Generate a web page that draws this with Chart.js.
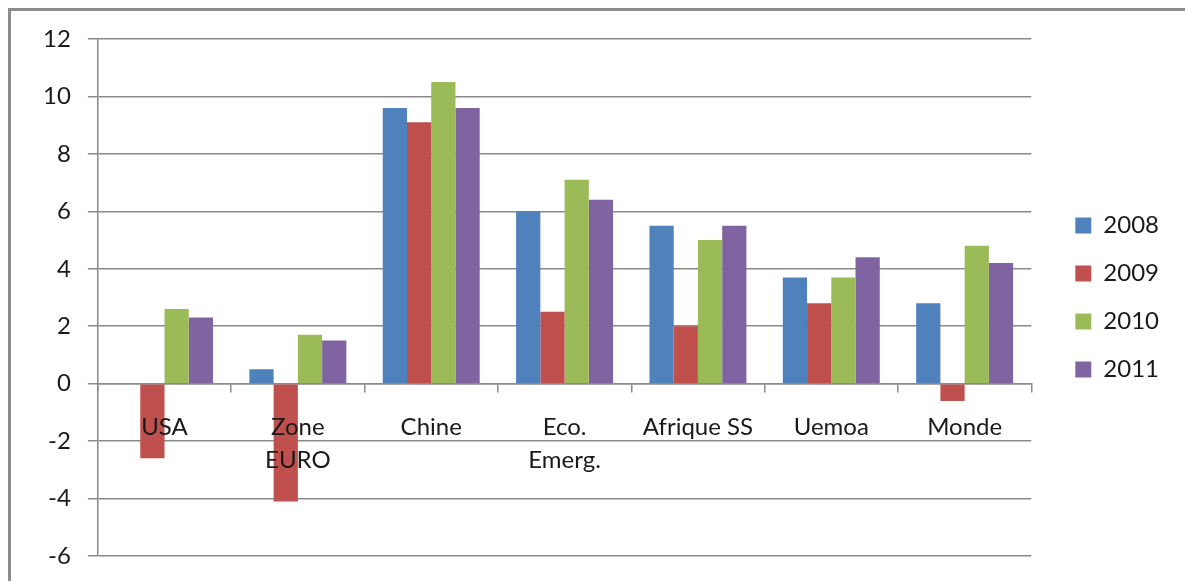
<!DOCTYPE html>
<html>
<head>
<meta charset="utf-8">
<script src="https://cdn.jsdelivr.net/npm/chart.js@4/dist/chart.umd.min.js"></script>
<style>
  html, body { margin: 0; padding: 0; background: #fff; }
  #wrap { width: 1185px; height: 581px; position: relative; }
</style>
</head>
<body>
<div id="wrap"><canvas id="c" width="1185" height="581"></canvas></div>
<script>
// Croissance du PIB (%) par zone, 2008-2011
const categories = [['USA'], ['Zone', 'EURO'], ['Chine'], ['Eco.', 'Emerg.'], ['Afrique SS'], ['Uemoa'], ['Monde']];
const years = ['2008', '2009', '2010', '2011'];
const values2008 = [null, 0.5, 9.6, 6.0, 5.5, 3.7, 2.8];
const values2009 = [-2.6, -4.1, 9.1, 2.5, 2.0, 2.8, -0.6];
const values2010 = [2.6, 1.7, 10.5, 7.1, 5.0, 3.7, 4.8];
const values2011 = [2.3, 1.5, 9.6, 6.4, 5.5, 4.4, 4.2];
const yTicks = [-6, -4, -2, 0, 2, 4, 6, 8, 10, 12];

const colors = ['#4F81BD', '#C0504D', '#9BBB59', '#8064A2'];
const series = [values2008, values2009, values2010, values2011];
const gridColor = '#8a8a8a';
const fontFamily = 'Lato, "Open Sans", sans-serif';

// Cadre gris autour du graphique
const frame = {
  id: 'frame',
  beforeDraw(chart) {
    const ctx = chart.ctx;
    ctx.save();
    ctx.fillStyle = '#fff';
    ctx.fillRect(0, 0, chart.width, chart.height);
    ctx.strokeStyle = '#8c8c8c';
    ctx.lineWidth = 3;
    ctx.strokeRect(9.5, 9.5, chart.width + 20, chart.height + 20);
    ctx.restore();
  }
};

// Décale la légende vers la droite, sans toucher à la zone de tracé
const legendShift = {
  id: 'legendShift',
  afterLayout(chart) {
    const lg = chart.legend;
    if (lg) { lg.left += 20; lg.right += 20; }
  }
};

new Chart(document.getElementById('c'), {
  type: 'bar',
  data: {
    labels: categories,
    datasets: years.map((y, i) => ({
      label: y,
      data: series[i],
      backgroundColor: colors[i],
      borderWidth: 0,
      categoryPercentage: 0.727,
      barPercentage: 1.0
    }))
  },
  options: {
    responsive: false,
    animation: false,
    layout: { padding: { left: 26, top: 39, right: 36, bottom: 25 } },
    plugins: {
      legend: {
        position: 'right',
        labels: {
          boxWidth: 16,
          boxHeight: 16,
          padding: 24,
          color: '#1a1a1a',
          font: { family: fontFamily, size: 24 }
        }
      },
      tooltip: { enabled: false }
    },
    scales: {
      x: {
        position: { y: 0 },
        grid: {
          drawOnChartArea: false,
          drawTicks: true,
          tickLength: 8,
          color: gridColor,
          lineWidth: 1.5,
          offset: true
        },
        border: { display: true, color: gridColor, width: 1.5 },
        ticks: {
          z: 1,
          color: '#1a1a1a',
          padding: 20,
          maxRotation: 0,
          autoSkip: false,
          font: { family: fontFamily, size: 24, lineHeight: 1.34 }
        }
      },
      y: {
        min: -6,
        max: 12,
        afterBuildTicks(scale) { scale.ticks = yTicks.map(v => ({ value: v })); },
        grid: {
          color: gridColor,
          lineWidth: 1.5,
          tickLength: 10
        },
        border: { display: true, color: gridColor, width: 1.5 },
        ticks: {
          color: '#1a1a1a',
          padding: 17,
          font: { family: fontFamily, size: 24, lineHeight: 0.66 }
        }
      }
    }
  },
  plugins: [frame, legendShift]
});
</script>
</body>
</html>
